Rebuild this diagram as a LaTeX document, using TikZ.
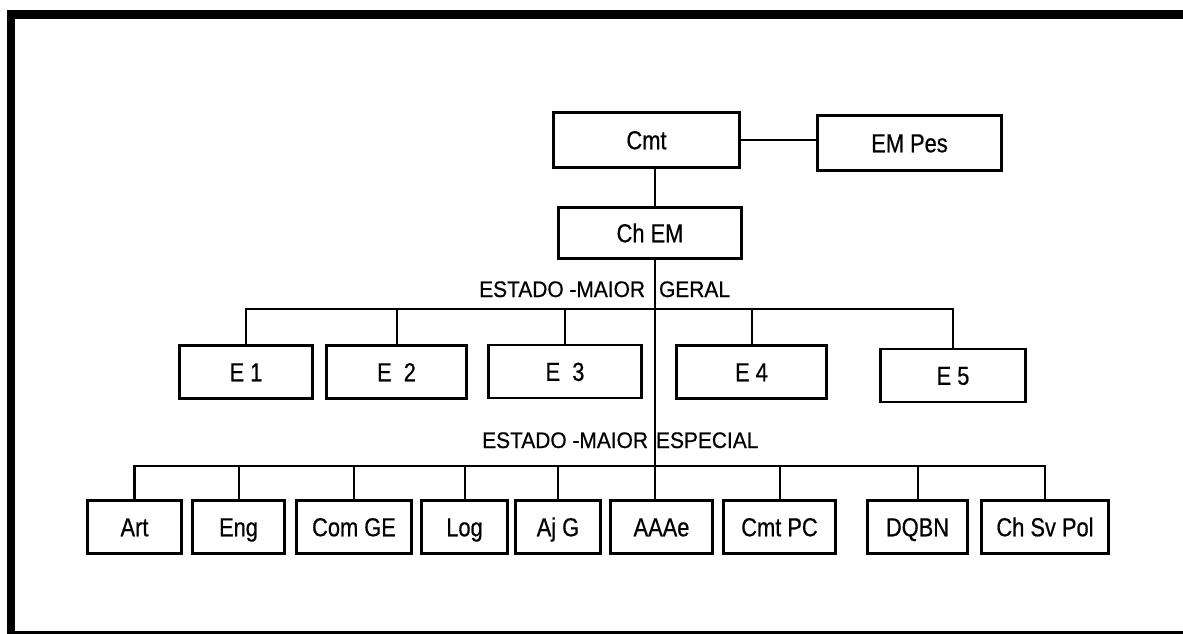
\documentclass[tikz,border=0pt]{standalone}
\usepackage{fontspec}
\setmainfont{Liberation Sans}
\newfontfamily\boxfont[FakeStretch=0.84,FakeBold=0.6]{Liberation Sans}
\newfontfamily\labfont[FakeStretch=0.93,FakeBold=0.6]{Liberation Sans}
\begin{document}
\begin{tikzpicture}[x=1pt,y=-1pt,
  box/.style={draw=black, line width=2.4pt, inner sep=0pt, minimum height=53pt,
    font=\boxfont\fontsize{26}{26}\selectfont, text height=18.5pt, text depth=0pt},
  conn/.style={line width=2pt},
  bus/.style={line width=2.8pt},
  lab/.style={font=\labfont\fontsize{22.5}{22.5}\selectfont, inner sep=0pt, anchor=base west}]
\useasboundingbox (0,0) rectangle (1183,634);
% frame
\fill[black] (7,10) rectangle (1183,19);
\fill[black] (7,10) rectangle (15,634);
\fill[black] (7,631) rectangle (1183,634);
% top boxes
\node[box, minimum width=186pt, minimum height=55pt] (cmt) at (646.5,140) {Cmt};
\node[box, minimum width=184pt, minimum height=55pt] (empes) at (909.5,143) {EM Pes};
\node[box, minimum width=183pt, minimum height=51pt] (chem) at (650,233) {Ch EM};
% general staff
\node[box, minimum width=133pt] (e1) at (246,372) {E 1};
\node[box, minimum width=140pt] (e2) at (396.5,372) {E\ \ 2};
\node[box, minimum width=153pt] (e3) at (565,371.5) {E\ \ 3};
\node[box, minimum width=150pt] (e4) at (751.5,372) {E 4};
\node[box, minimum width=145pt] (e5) at (953,375.5) {E 5};
% special staff
\node[box, minimum width=94pt] (art) at (134.5,527) {Art};
\node[box, minimum width=92pt] (eng) at (238.5,527) {Eng};
\node[box, minimum width=115pt] (comge) at (354,527) {Com GE};
\node[box, minimum width=86pt] (log) at (464.5,527) {Log};
\node[box, minimum width=85pt] (ajg) at (558,527) {Aj G};
\node[box, minimum width=102pt] (aaae) at (661.5,527) {AAAe};
\node[box, minimum width=112pt] (cmtpc) at (779.5,527) {Cmt PC};
\node[box, minimum width=100pt] (dqbn) at (917.5,527) {DQBN};
\node[box, minimum width=127pt] (chsvpol) at (1045,527) {Ch Sv Pol};
% labels
\node[lab] (labg) at (479,297) {ESTADO -MAIOR\hspace{14pt}GERAL};
\node[lab] (labs) at (482,448) {ESTADO -MAIOR\hspace{8pt}ESPECIAL};
% connectors
\coordinate (spine) at (654.5,0);
\coordinate (busG) at (0,309);
\coordinate (busS) at (0,466);
\draw[conn] (cmt.east) -- (empes.west |- cmt.east);
\draw[conn] (cmt.south -| spine) -- (chem.north -| spine);
\draw[conn] (chem.south -| spine) -- (aaae.north -| spine);
\draw[conn] (e1.north) -- (e1.north |- busG) -- (e5.north |- busG) -- (e5.north);
\foreach \n in {e2,e3,e4} \draw[conn] (\n.north) -- (\n.north |- busG);
\draw[bus] (art.north) -- (art.north |- busS) -- (chsvpol.north |- busS) -- (chsvpol.north);
\foreach \n in {eng,comge,log,ajg,cmtpc,dqbn} \draw[conn] (\n.north) -- (\n.north |- busS);
\end{tikzpicture}
\end{document}
